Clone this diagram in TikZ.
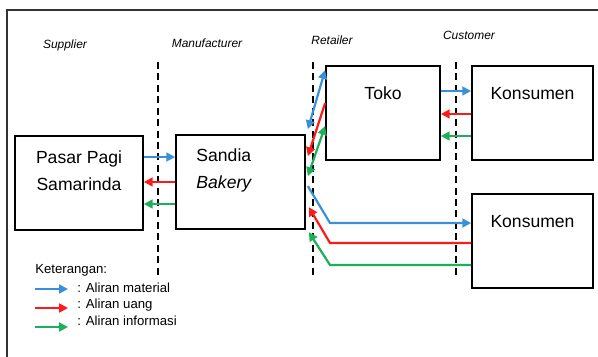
\documentclass[tikz,border=0pt]{standalone}
\usepackage{fontspec}
\setmainfont{Liberation Sans}
\usetikzlibrary{arrows.meta,calc,positioning}
\definecolor{aliranbiru}{HTML}{3A8FD9}
\definecolor{aliranmerah}{HTML}{FF1A1A}
\definecolor{aliranhijau}{HTML}{1DB05A}

\begin{document}
\begin{tikzpicture}[x=0.02cm, y=-0.02cm, >={Triangle[length=5pt,width=5pt]},
    kotak/.style={draw, line width=1pt, minimum height=1.88cm, inner sep=0pt},
    teks/.style={font=\fontsize{10}{15.3}\selectfont, inner sep=0pt},
    judul/.style={font=\fontsize{6.8}{8}\selectfont\itshape, inner sep=0pt},
    ket/.style={font=\fontsize{7.5}{8}\selectfont, inner sep=0pt, anchor=west},
    batas/.style={line width=0.8pt, dash pattern=on 4pt off 2.5pt},
    material/.style={aliranbiru, line width=1.25pt},
    uang/.style={aliranmerah, line width=1.25pt},
    info/.style={aliranhijau, line width=1.25pt}]
    \clip (0,0) rectangle (598,356);
    % Bingkai luar
    \draw[line width=1.3pt, black!80] (7,10) rectangle (620,380);
    
    % Judul kolom
    \node[judul] (jsup) at (65,45) {Supplier};
    \node[judul] (jman) at (207,43) {Manufacturer};
    \node[judul] (jret) at (332,40) {Retailer};
    \node[judul] (jcus) at (469,35) {Customer};
    
    % Garis batas
    \draw[batas] (158,62) -- (158,278);
    \draw[batas] (313,62) -- (313,278);
    \draw[batas] (456,62) -- (456,278);
    
    % Kotak-kotak
    \node[kotak, minimum width=2.56cm] (pasar) at (79,183) {};
    \node[kotak, minimum width=2.58cm] (sandia) at (240.5,182) {};
    \node[kotak, minimum width=2.28cm] (toko) at (383,113) {};
    \node[kotak, minimum width=2.42cm] (kons1) at (532.5,113) {};
    \node[kotak, minimum width=2.42cm] (kons2) at (532.5,241) {};
    
    \node[teks, align=center] (tpasar) at ($(pasar.north)+(0,36)$) {Pasar Pagi\\Samarinda};
    \node[teks, align=left, anchor=west] (tsandia) at ($(sandia.north west)+(21,36)$) {Sandia\\\textit{Bakery}};
    \node[teks] (ttoko) at ($(toko.north)+(0,28)$) {Toko};
    \node[teks] (tkons1) at ($(kons1.north)+(0,28)$) {Konsumen};
    \node[teks] (tkons2) at ($(kons2.north)+(0,28)$) {Konsumen};
    
    % Supplier - manufacturer
    \draw[material, ->] (pasar.east |- 0,157) -- (sandia.west |- 0,157);
    \draw[uang, ->] (sandia.west |- 0,182) -- (pasar.east |- 0,182);
    \draw[info, ->] (sandia.west |- 0,204) -- (pasar.east |- 0,204);
    
    % Manufacturer - toko
    \draw[material, <->] ($(sandia.north east)+(2,-5)$) -- ($(toko.north west)+(0,5)$);
    \draw[uang, ->] (toko.west |- 0,103) -- ($(sandia.north east)+(2,22)$);
    \draw[info, <->] ($(sandia.north east)+(2,42)$) -- (toko.west |- 0,126);
    
    % Manufacturer - konsumen
    \draw[material, ->] ($(sandia.north east)+(2,52)$) -- (330,223) -- (kons2.west |- 0,223);
    \draw[uang, ->] (kons2.west |- 0,243) -- (330,243) -- ($(sandia.north east)+(3,73)$);
    \draw[info, ->] (kons2.west |- 0,265) -- (330,265) -- ($(sandia.north east)+(3,98)$);
    
    % Toko - konsumen
    \draw[material, ->] (toko.east |- 0,91) -- (kons1.west |- 0,91);
    \draw[uang, ->] (kons1.west |- 0,114) -- (toko.east |- 0,114);
    \draw[info, ->] (kons1.west |- 0,136) -- (toko.east |- 0,136);
    
    % Keterangan
    \node[ket] (ket) at (35,270) {Keterangan:};
    \node[ket] (kmat) at (77,288) {: Aliran material};
    \node[ket] (kuang) at (77,305) {: Aliran uang};
    \node[ket] (kinfo) at (77,321) {: Aliran informasi};
    \coordinate (m1) at (35,289);
    \coordinate (u1) at (35,308);
    \coordinate (i1) at (35,327);
    \draw[material, ->] (m1) -- ++(33,0);
    \draw[uang, ->] (u1) -- ++(33,0);
    \draw[info, ->] (i1) -- ++(33,0);
\end{tikzpicture}
\end{document}
